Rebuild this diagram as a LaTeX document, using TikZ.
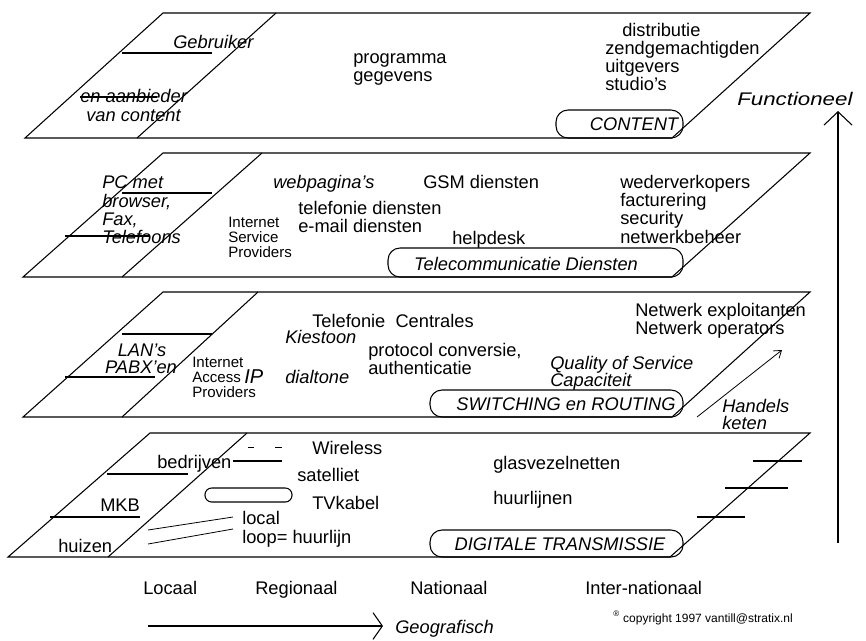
\documentclass[tikz,border=0pt]{standalone}
\usepackage{fontspec}
\usepackage{graphicx}
\setmainfont{Liberation Sans}
\usetikzlibrary{arrows.meta}
\begin{document}
\begin{tikzpicture}[x=0.75pt,y=-0.75pt,
  edge/.style={line width=0.8pt, line join=miter},
  thin/.style={line width=0.6pt},
  pillst/.style={draw, line width=0.8pt, rounded corners=9pt},
  lab/.style={font=\fontsize{13.7}{14}\selectfont, inner sep=0, anchor=base west},
  ilab/.style={lab, font=\fontsize{13.7}{14}\selectfont\itshape},
  clab/.style={ilab, anchor=base},
  small/.style={lab, font=\fontsize{11.3}{12}\selectfont},
  mid/.style={lab, font=\fontsize{11.3}{12}\selectfont},
  foot/.style={lab, font=\fontsize{9}{10}\selectfont}]
\useasboundingbox (0,0) rectangle (866,640);

% ---------- layer 1 : CONTENT ----------
\draw[edge] (163,13) -- (810,13) -- (672,138) -- (25,138) -- cycle;
\draw[edge] (276,13) -- (137,138);
\draw[edge] (122,53) -- (212,53);
\draw[edge] (80,97) -- (157,97);
\draw[pillst] (556,110) rectangle (683,138);
\node[ilab] (gebr) at (173,48) {Gebruiker};
\node[ilab] (aanb) at (80,102) {en aanbieder};
\node[ilab] (vanc) at (86,121) {van content};
\node[lab] (prog) at (353,63) {programma};
\node[lab] (gegev) at (353,81) {gegevens};
\node[lab] (distr) at (622,36) {distributie};
\node[lab] (zend) at (605,54) {zendgemachtigden};
\node[lab] (uitg) at (605,72) {uitgevers};
\node[lab] (stud) at (605,90) {studio's};
\node[clab] (content) at (634,130) {CONTENT};

% ---------- layer 2 : Telecommunicatie Diensten ----------
\draw[edge] (163,153) -- (810,153) -- (672,277) -- (23,277) -- cycle;
\draw[edge] (262,153) -- (122,277);
\draw[edge] (122,193) -- (212,193);
\draw[edge] (65,236) -- (150,236);
\draw[pillst] (388,248) rectangle (683,277);
\node[ilab] (pc) at (102,188) {PC met};
\node[ilab] (brow) at (102,207) {browser,};
\node[ilab] (fax) at (102,225) {Fax,};
\node[ilab] (tel) at (102,243) {Telefoons};
\node[small] (isp1) at (228,227) {Internet};
\node[small] (isp2) at (228,242) {Service};
\node[small] (isp3) at (228,257) {Providers};
\node[ilab] (webp) at (273,188) {webpagina's};
\node[lab] (gsm) at (423,188) {GSM diensten};
\node[lab] (telef) at (298,214) {telefonie diensten};
\node[lab] (email) at (298,232) {e-mail diensten};
\node[lab] (help) at (452,244) {helpdesk};
\node[lab] (weder) at (620,188) {wederverkopers};
\node[lab] (fact) at (620,206) {facturering};
\node[lab] (secu) at (620,224) {security};
\node[lab] (netb) at (620,243) {netwerkbeheer};
\node[clab] (tdiensten) at (526,270) {Telecommunicatie Diensten};

% ---------- layer 3 : SWITCHING en ROUTING ----------
\draw[edge] (163,292) -- (810,292) -- (672,417) -- (23,417) -- cycle;
\draw[edge] (258,292) -- (122,417);
\draw[edge] (122,334) -- (212,334);
\draw[edge] (65,377) -- (155,377);
\draw[pillst] (430,390) rectangle (683,417);
\node[ilab, anchor=base] (lans) at (142,356) {LAN's};
\node[ilab, anchor=base] (pabx) at (141,373) {PABX'en};
\node[mid] (iap1) at (192,367) {Internet};
\node[mid] (iap2) at (192,382) {Access};
\node[mid] (iap3) at (192,397) {Providers};
\node[ilab, font=\fontsize{15}{16}\selectfont\itshape] (ip) at (244,383) {IP};
\node[lab] (tcentr) at (312,327) {Telefonie\ \ Centrales};
\node[ilab] (kies) at (285,343) {Kiestoon};
\node[ilab] (dial) at (285,383) {dialtone};
\node[lab] (proto) at (368,356) {protocol conversie,};
\node[lab] (authe) at (368,374) {authenticatie};
\node[ilab] (qos) at (550,369) {Quality of Service};
\node[ilab] (capa) at (550,386) {Capaciteit};
\node[lab] (nexp) at (635,316) {Netwerk exploitanten};
\node[lab] (nop) at (635,334) {Netwerk operators};
\node[clab] (switch) at (566,410) {SWITCHING en ROUTING};

% ---------- layer 4 : DIGITALE TRANSMISSIE ----------
\draw[edge] (150,433) -- (810,433) -- (670,557) -- (8,557) -- cycle;
\draw[edge] (247,433) -- (108,557);
\draw[edge] (107,474) -- (188,474);
\draw[edge] (50,517) -- (140,517);
\draw[edge] (233,461) -- (282,461);
\draw[thin] (248,447) -- (254,447);
\draw[thin] (275,447) -- (282,447);
\draw[thin] (148,530) -- (233,517);
\draw[thin] (148,544) -- (233,529);
\draw[edge] (753,461) -- (802,461);
\draw[edge] (725,488) -- (788,488);
\draw[edge] (697,517) -- (745,517);
\draw[pillst, rounded corners=5pt] (205,488) rectangle (292,502);
\draw[pillst] (430,530) rectangle (683,557);
\node[lab] (bedr) at (157,468) {bedrijven};
\node[lab] (mkb) at (100,511) {MKB};
\node[lab] (huiz) at (58,552) {huizen};
\node[lab] (wire) at (312,454) {Wireless};
\node[lab] (sate) at (297,481) {satelliet};
\node[lab] (tvk) at (312,509) {TVkabel};
\node[lab] (loc) at (242,524) {local};
\node[lab] (loop) at (242,543) {loop= huurlijn};
\node[lab] (glas) at (493,469) {glasvezelnetten};
\node[lab] (huur) at (493,504) {huurlijnen};
\node[clab] (digi) at (560,550) {DIGITALE TRANSMISSIE};

% ---------- axes ----------
\node[lab] (locaal) at (143,594) {Locaal};
\node[lab] (regio) at (255,594) {Regionaal};
\node[lab] (natio) at (410,594) {Nationaal};
\node[lab] (inter) at (585,594) {Inter-nationaal};

\coordinate (gstart) at (148,626);
\coordinate (gend) at (383,626);
\draw[edge, -{Straight Barb[length=7pt,width=20pt]}] (gstart) -- (gend);
\node[ilab] (geo) at (395,633) {Geografisch};

\coordinate (fstart) at (838,543);
\coordinate (fend) at (838,111);
\draw[edge, -{Straight Barb[length=10pt,width=21pt]}] (fstart) -- (fend);
\node[ilab] (func) at (737,105) {\scalebox{1.22}[1]{Functioneel}};

\coordinate (hstart) at (697,417);
\coordinate (hend) at (782,350);
\draw[thin, -{Straight Barb[length=5pt,width=7pt]}] (hstart) -- (hend);
\node[ilab] (hand) at (722,412) {Handels};
\node[ilab] (keten) at (722,429) {keten};

\node[foot] (copy) at (613,622) {\textsuperscript{®} copyright 1997 vantill@stratix.nl};
\end{tikzpicture}
\end{document}
